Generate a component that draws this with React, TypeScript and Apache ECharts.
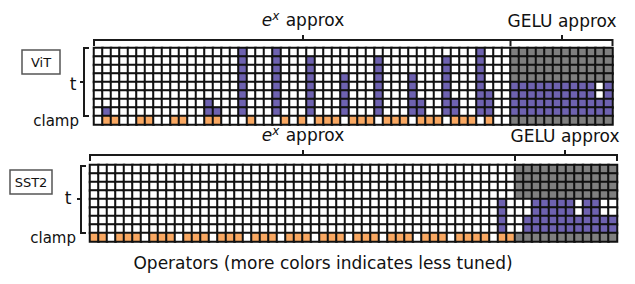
import React, { useEffect, useRef } from "react";
import * as echarts from "echarts";

// ---- data ----
// number of tuned ("t") rows shown in colour, counted from the bottom of the 8 t-rows
const vitExpT = [
  0, 1, 0, 0, 0, 0, 0, 0, 0, 0,
  0, 0, 0, 2, 1, 0, 0, 8, 0, 0,
  0, 8, 0, 0, 0, 7, 0, 0, 0, 5,
  0, 0, 0, 7, 0, 0, 0, 5, 2, 0,
  0, 7, 2, 0, 0, 8, 3, 0, 0,
];
// clamp row tuned (1) or not (0)
const vitExpClamp = [
  0, 1, 1, 0, 0, 1, 1, 0, 0, 1,
  1, 0, 0, 1, 1, 0, 0, 0, 1, 0,
  0, 0, 1, 0, 1, 0, 1, 1, 1, 0,
  1, 1, 1, 0, 1, 1, 1, 0, 1, 1,
  1, 0, 1, 1, 1, 0, 1, 0, 0,
];
// GELU approx operators: coloured rows (of the lower 4 t-rows), from the bottom
const vitGeluT = [4, 4, 4, 4, 4, 4, 4, 4, 4, 4, 2, 4];

const sstExpT = [
  0, 0, 0, 0, 0, 0, 0, 0, 0, 0,
  0, 0, 0, 0, 0, 0, 0, 0, 0, 0,
  0, 0, 0, 0, 0, 0, 0, 0, 0, 0,
  0, 0, 0, 0, 0, 0, 0, 0, 0, 0,
  0, 0, 0, 0, 0, 0, 0, 0, 4, 0,
];
const sstExpClamp = [
  1, 1, 0, 1, 1, 1, 0, 1, 1, 1,
  0, 1, 1, 1, 0, 1, 1, 1, 0, 1,
  1, 1, 0, 1, 1, 1, 0, 1, 1, 1,
  0, 1, 1, 1, 0, 1, 1, 1, 0, 1,
  1, 1, 0, 1, 1, 1, 1, 0, 1, 1,
];
const sstGeluT = [0, 2, 4, 4, 4, 4, 4, 2, 4, 4, 2, 2];

const rowLabels = ["t1", "t2", "t3", "t4", "t5", "t6", "t7", "t8", "clamp"];
const N_T = 8;
const GELU_GRAY_ROWS = 4;

const WHITE = "#ffffff";
const PURPLE = "#6e62b0";
const ORANGE = "#f9a862";
const GRAY = "#7f7f7f";

function buildCells(expT: number[], expClamp: number[], geluT: number[]) {
  const data: number[][] = [];
  const nExp = expT.length;
  const total = nExp + geluT.length;
  for (let c = 0; c < total; c++) {
    for (let r = 0; r <= N_T; r++) {
      let v = 0;
      if (c < nExp) {
        if (r === N_T) v = expClamp[c] ? 2 : 0;
        else v = r >= N_T - expT[c] ? 1 : 0;
      } else {
        const g = geluT[c - nExp];
        if (r === N_T || r < GELU_GRAY_ROWS) v = 3;
        else v = r >= N_T - g ? 1 : 0;
      }
      data.push([c, r, v]);
    }
  }
  return data;
}

const CELL = 8.5;

export default function App() {
  const ref = useRef<HTMLDivElement>(null);
  useEffect(() => {
    if (!ref.current) return;
    const chart = echarts.init(ref.current, undefined, { renderer: "svg" });
    const vitCols = vitExpT.length + vitGeluT.length;
    const sstCols = sstExpT.length + sstGeluT.length;
    const colIdx = (n: number) => Array.from({ length: n }, (_, i) => String(i));
    const font = "DejaVu Sans";
    const lineStyle = { stroke: "#1a1a1a", lineWidth: 2, fill: null as any };
    const poly = (pts: number[][]) => ({
      type: "polyline",
      shape: { points: pts },
      style: { ...lineStyle },
      silent: true,
    });
    const txt = (
      x: number,
      y: number,
      text: string,
      size: number,
      align = "center",
      extra: any = {}
    ) => ({
      type: "text",
      x,
      y,
      silent: true,
      style: {
        text,
        fontFamily: font,
        fontSize: size,
        fill: "#111",
        align,
        verticalAlign: "middle",
        ...extra,
      },
    });
    const expLabel = (x: number, y: number) =>
      txt(x, y, "{e|e}{s|x} approx", 17, "center", {
        rich: {
          e: { fontFamily: font, fontSize: 17, fontStyle: "italic", fill: "#111" },
          s: {
            fontFamily: font,
            fontSize: 12,
            fontStyle: "italic",
            fill: "#111",
            verticalAlign: "top",
            padding: [0, 1, 8, 0],
          },
        },
      });

    const vitLeft = 94;
    const vitTop = 48;
    const sstLeft = 90;
    const sstTop = 165;
    const vitW = vitCols * CELL;
    const sstW = sstCols * CELL;
    const H = 9 * CELL;
    const vitB = vitLeft + vitExpT.length * CELL;
    const sstB = sstLeft + sstExpT.length * CELL;

    chart.setOption({
      animation: false,
      grid: [
        { left: vitLeft, top: vitTop, width: vitW, height: H },
        { left: sstLeft, top: sstTop, width: sstW, height: H },
      ],
      xAxis: [
        { type: "category", gridIndex: 0, data: colIdx(vitCols), show: false },
        { type: "category", gridIndex: 1, data: colIdx(sstCols), show: false },
      ],
      yAxis: [
        { type: "category", gridIndex: 0, data: rowLabels, inverse: true, show: false },
        { type: "category", gridIndex: 1, data: rowLabels, inverse: true, show: false },
      ],
      visualMap: {
        type: "piecewise",
        show: false,
        dimension: 2,
        seriesIndex: [0, 1],
        pieces: [
          { value: 0, color: WHITE },
          { value: 1, color: PURPLE },
          { value: 2, color: ORANGE },
          { value: 3, color: GRAY },
        ],
      },
      series: [
        {
          type: "heatmap",
          xAxisIndex: 0,
          yAxisIndex: 0,
          data: buildCells(vitExpT, vitExpClamp, vitGeluT),
          itemStyle: { borderColor: "#111", borderWidth: 2 },
          emphasis: { disabled: true },
          silent: true,
        },
        {
          type: "heatmap",
          xAxisIndex: 1,
          yAxisIndex: 1,
          data: buildCells(sstExpT, sstExpClamp, sstGeluT),
          itemStyle: { borderColor: "#111", borderWidth: 2 },
          emphasis: { disabled: true },
          silent: true,
        },
      ],
      graphic: [
        // top brackets
        poly([[vitLeft, 46], [vitLeft, 40], [vitLeft + vitW, 40], [vitLeft + vitW, 46]]),
        poly([[303, 40], [303, 35]]),
        poly([[vitB, 40], [vitB, 46]]),
        poly([[562, 40], [562, 35]]),
        expLabel(303, 20),
        txt(562, 21, "GELU approx", 17),
        // bottom brackets
        poly([[sstLeft, 161], [sstLeft, 155], [sstLeft + sstW, 155], [sstLeft + sstW, 161]]),
        poly([[303, 155], [303, 150]]),
        poly([[sstB, 155], [sstB, 161]]),
        poly([[565, 155], [565, 150]]),
        expLabel(303, 135),
        txt(565, 136, "GELU approx", 17),
        // left vertical brackets
        poly([[89, vitTop], [84, vitTop], [84, vitTop + 8 * CELL], [89, vitTop + 8 * CELL]]),
        poly([[84, 82], [80, 82]]),
        poly([[86, sstTop + 1], [81, sstTop + 1], [81, sstTop + 8 * CELL], [86, sstTop + 8 * CELL]]),
        poly([[81, 199], [77, 199]]),
        txt(73, 84, "t", 17),
        txt(68, 198, "t", 17),
        txt(79, 121, "clamp", 15, "right"),
        txt(76, 238, "clamp", 15, "right"),
        // model boxes
        {
          type: "rect",
          shape: { x: 22, y: 50, width: 38, height: 24 },
          style: { fill: "#fff", stroke: "#555", lineWidth: 1.5 },
          silent: true,
        },
        txt(41, 62, "ViT", 13),
        {
          type: "rect",
          shape: { x: 10, y: 170, width: 42, height: 24 },
          style: { fill: "#fff", stroke: "#555", lineWidth: 1.5 },
          silent: true,
        },
        txt(31, 182, "SST2", 13),
        txt(323, 263, "Operators (more colors indicates less tuned)", 17),
      ],
    });
    return () => chart.dispose();
  }, []);
  return (
    <div
      ref={ref}
      style={{ position: "fixed", left: 0, top: 0, width: 635, height: 284, background: "#fff" }}
    />
  );
}
